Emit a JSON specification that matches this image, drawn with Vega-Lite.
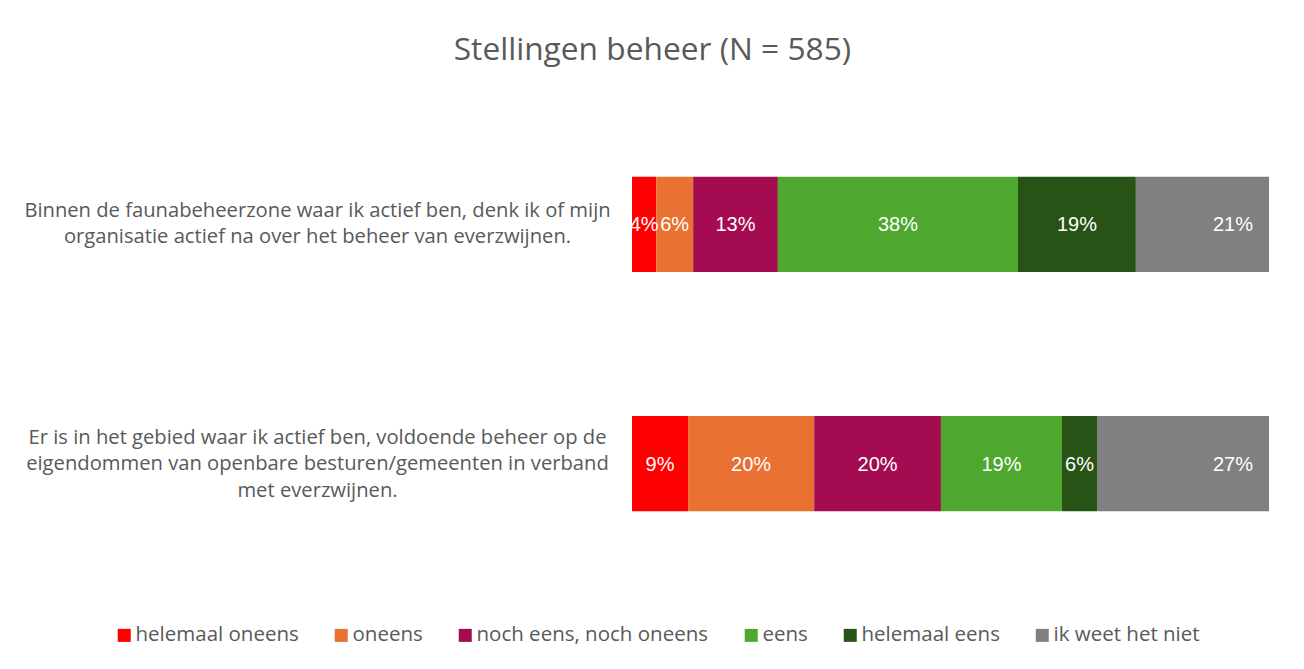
{
  "$schema": "https://vega.github.io/schema/vega-lite/v6.json",
  "width": 637,
  "height": 430,
  "autosize": {"type": "none"},
  "padding": {"left": 632, "top": 129, "right": 35, "bottom": 110},
  "background": "white",
  "title": {
    "text": "Stellingen beheer (N = 585)",
    "font": "Open Sans",
    "fontSize": 31.7,
    "fontWeight": "normal",
    "color": "#595959",
    "anchor": "middle",
    "frame": "bounds",
    "offset": 62,
    "dx": 6
  },
  "data": {
    "values": [
      {"statement": "Binnen de faunabeheerzone waar ik actief ben, denk ik of mijn|organisatie actief na over het beheer van everzwijnen.", "answer": "helemaal oneens", "i": 1, "value": 3.8, "label": "4%"},
      {"statement": "Binnen de faunabeheerzone waar ik actief ben, denk ik of mijn|organisatie actief na over het beheer van everzwijnen.", "answer": "oneens", "i": 2, "value": 5.8, "label": "6%"},
      {"statement": "Binnen de faunabeheerzone waar ik actief ben, denk ik of mijn|organisatie actief na over het beheer van everzwijnen.", "answer": "noch eens, noch oneens", "i": 3, "value": 13.3, "label": "13%"},
      {"statement": "Binnen de faunabeheerzone waar ik actief ben, denk ik of mijn|organisatie actief na over het beheer van everzwijnen.", "answer": "eens", "i": 4, "value": 37.7, "label": "38%"},
      {"statement": "Binnen de faunabeheerzone waar ik actief ben, denk ik of mijn|organisatie actief na over het beheer van everzwijnen.", "answer": "helemaal eens", "i": 5, "value": 18.5, "label": "19%"},
      {"statement": "Binnen de faunabeheerzone waar ik actief ben, denk ik of mijn|organisatie actief na over het beheer van everzwijnen.", "answer": "ik weet het niet", "i": 6, "value": 20.9, "label": "21%"},
      {"statement": "Er is in het gebied waar ik actief ben, voldoende beheer op de|eigendommen van openbare besturen/gemeenten in verband|met everzwijnen.", "answer": "helemaal oneens", "i": 1, "value": 8.8, "label": "9%"},
      {"statement": "Er is in het gebied waar ik actief ben, voldoende beheer op de|eigendommen van openbare besturen/gemeenten in verband|met everzwijnen.", "answer": "oneens", "i": 2, "value": 19.8, "label": "20%"},
      {"statement": "Er is in het gebied waar ik actief ben, voldoende beheer op de|eigendommen van openbare besturen/gemeenten in verband|met everzwijnen.", "answer": "noch eens, noch oneens", "i": 3, "value": 19.9, "label": "20%"},
      {"statement": "Er is in het gebied waar ik actief ben, voldoende beheer op de|eigendommen van openbare besturen/gemeenten in verband|met everzwijnen.", "answer": "eens", "i": 4, "value": 19.0, "label": "19%"},
      {"statement": "Er is in het gebied waar ik actief ben, voldoende beheer op de|eigendommen van openbare besturen/gemeenten in verband|met everzwijnen.", "answer": "helemaal eens", "i": 5, "value": 5.5, "label": "6%"},
      {"statement": "Er is in het gebied waar ik actief ben, voldoende beheer op de|eigendommen van openbare besturen/gemeenten in verband|met everzwijnen.", "answer": "ik weet het niet", "i": 6, "value": 27.0, "label": "27%"}
    ]
  },
  "transform": [
    {"stack": "value", "groupby": ["statement"], "sort": [{"field": "i", "order": "ascending"}], "as": ["x0", "x1"]},
    {"calculate": "(datum.x0 + datum.x1) / 2", "as": "xm"}
  ],
  "encoding": {
    "y": {
      "field": "statement",
      "type": "nominal",
      "sort": null,
      "title": null,
      "scale": {"paddingInner": 0.6025, "paddingOuter": 0.2},
      "axis": {
        "domain": false,
        "ticks": false,
        "tickSize": 0,
        "labelExpr": "split(datum.label, '|')",
        "labelAlign": "center",
        "labelBaseline": "middle",
        "labelPadding": 315,
        "labelOffset": {"condition": {"test": "indexof(datum.value, 'Er is') == 0", "value": -26}, "value": -13.5},
        "labelFont": "Open Sans",
        "labelFontSize": 20.2,
        "labelLineHeight": 26.5,
        "labelColor": "#595959",
        "labelLimit": 0
      }
    }
  },
  "layer": [
    {
      "mark": {"type": "bar", "strokeWidth": 0},
      "encoding": {
        "x": {"field": "x0", "type": "quantitative", "scale": {"domain": [0, 100], "nice": false}, "axis": null},
        "x2": {"field": "x1"},
        "color": {
          "field": "answer",
          "type": "nominal",
          "scale": {
            "domain": ["helemaal oneens", "oneens", "noch eens, noch oneens", "eens", "helemaal eens", "ik weet het niet"],
            "range": ["#FF0000", "#E97132", "#A50B50", "#4EA72E", "#275317", "#808080"]
          },
          "legend": {
            "title": null,
            "orient": "none",
            "direction": "horizontal",
            "legendX": -518,
            "legendY": 496,
            "symbolType": "square",
            "symbolSize": 169,
            "symbolStrokeWidth": 0,
            "symbolOpacity": 1,
            "labelFont": "Open Sans",
            "labelFontSize": 20.5,
            "labelColor": "#595959",
            "labelOffset": 1,
            "columnPadding": 32,
            "labelLimit": 0
          }
        }
      }
    },
    {
      "transform": [{"filter": "datum.answer != 'ik weet het niet'"}],
      "mark": {"type": "text", "color": "white", "font": "Liberation Sans", "fontSize": 20, "align": "center", "baseline": "middle", "dy": 1},
      "encoding": {
        "x": {"field": "xm", "type": "quantitative"},
        "text": {"field": "label"}
      }
    },
    {
      "transform": [{"filter": "datum.answer == 'ik weet het niet'"}],
      "mark": {"type": "text", "color": "white", "font": "Liberation Sans", "fontSize": 20, "align": "right", "baseline": "middle", "dx": -16, "dy": 1},
      "encoding": {
        "x": {"field": "x1", "type": "quantitative"},
        "text": {"field": "label"}
      }
    }
  ],
  "config": {"view": {"stroke": null}}
}
